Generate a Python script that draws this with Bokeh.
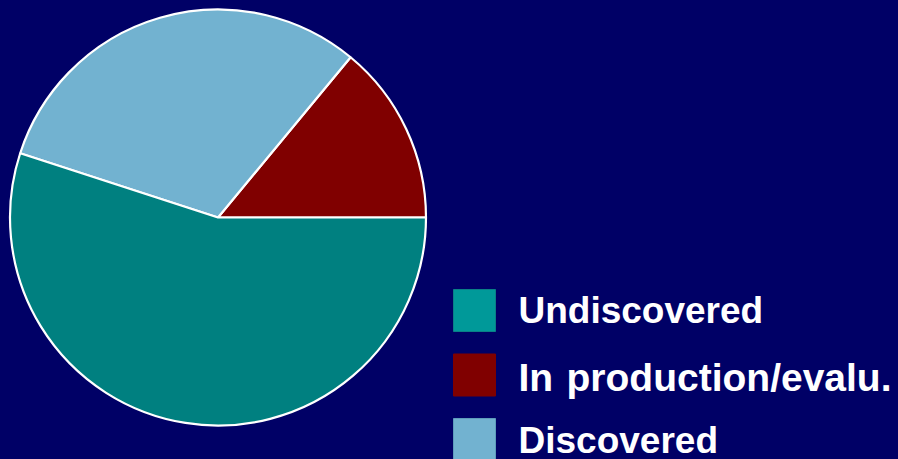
import numpy as np
from bokeh.plotting import figure
from bokeh.models import Range1d, ColumnDataSource, GlobalInlineStyleSheet
from bokeh.core.properties import value
from bokeh.embed import file_html
from bokeh.resources import INLINE

# ---- data ----
categories = ["In production/evalu.", "Discovered", "Undiscovered"]
shares = [14, 31, 55]
slice_colors = ["#800000", "#72B2D0", "#008080"]

legend_labels = ["Undiscovered", "In production/evalu.", "Discovered"]
legend_colors = ["#009999", "#800000", "#72B2D0"]
legend_borders = ["#0A7F86", "#800000", "#5E9CBB"]

BG = "#000066"
W, H = 898, 459

css = GlobalInlineStyleSheet(
    css=f"html, body {{ margin: 0; padding: 0; background: {BG}; overflow: hidden; }}")

p = figure(width=W, height=H, output_backend="svg", toolbar_location=None,
           x_range=Range1d(0, W), y_range=Range1d(0, H),
           min_border=0, background_fill_color=BG, border_fill_color=BG,
           outline_line_color=None, stylesheets=[css])
p.axis.visible = False
p.grid.visible = False

vals = np.array(shares, dtype=float)
frac = vals / vals.sum()
ends = np.cumsum(frac) * 2 * np.pi
starts = np.concatenate([[0.0], ends[:-1]])

src = ColumnDataSource(dict(start=starts, end=ends, color=slice_colors, name=categories))
p.wedge(x=217.5, y=242, radius=208, start_angle="start", end_angle="end",
        fill_color="color", line_color="white", line_width=2.2, source=src)

# ---- legend (drawn manually) ----
sq_x = 474
sq_y0 = 149
step = 64.5
ys = [sq_y0 - i * step for i in range(len(legend_labels))]
p.rect(x=[sq_x] * 3, y=ys, width=42, height=42, fill_color=legend_colors,
       line_color=legend_borders, line_width=1)

tx = 518
fnt = value("Liberation Sans")
p.text(x=[tx], y=[ys[0] + 0.5], text=[legend_labels[0]], text_font=fnt,
       text_font_size="37px", text_font_style="bold", text_color="white",
       text_baseline="alphabetic")
# second label: larger "In" + rest
first, rest = legend_labels[1].split(" ", 1)
p.text(x=[tx], y=[ys[1] - 2.5], text=[first], text_font=fnt,
       text_font_size="39px", text_font_style="bold", text_color="white",
       text_baseline="alphabetic")
p.text(x=[tx + 48], y=[ys[1] - 2.5], text=[rest], text_font=fnt,
       text_font_size="39px", text_font_style="bold", text_color="white",
       text_baseline="alphabetic")
p.text(x=[tx], y=[ys[2] - 0.5], text=[legend_labels[2]], text_font=fnt,
       text_font_size="37px", text_font_style="bold", text_color="white",
       text_baseline="alphabetic")

open("out.html", "w").write(file_html(p, INLINE))
